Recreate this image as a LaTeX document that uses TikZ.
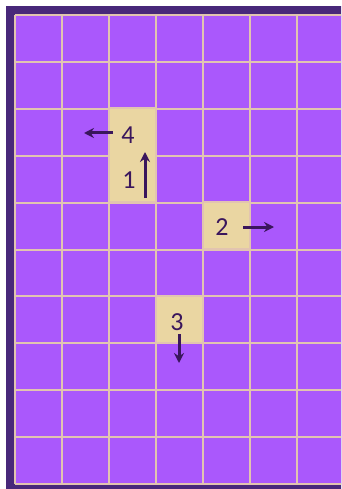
\documentclass[tikz,border=0pt]{standalone}
\usepackage{fontspec}
\setmainfont{Carlito}
\usetikzlibrary{arrows.meta}
\definecolor{cellpurple}{RGB}{170,88,252}
\definecolor{gridbeige}{RGB}{226,196,176}
\definecolor{hicell}{RGB}{234,214,162}
\definecolor{borderdark}{RGB}{72,40,122}
\definecolor{inkdark}{RGB}{58,22,92}
\tikzset{
  hibox/.style={fill=hicell,draw=gridbeige,line width=2pt,minimum width=47pt,minimum height=47pt,inner sep=0pt},
  digit/.style={text=inkdark,font=\fontsize{26}{26}\selectfont,inner sep=0pt},
  movearrow/.style={draw=inkdark,line width=3pt,-{Stealth[length=10pt,width=10pt]}}
}
\begin{document}
\begin{tikzpicture}[x=1pt,y=-1pt]
\useasboundingbox (0,0) rectangle (341,489);
\begin{scope}
\clip (0,0) rectangle (341,489);
\fill[white] (0,0) rectangle (341,489);
\fill[borderdark] (6,6) rectangle (360,500);
\fill[cellpurple] (15,15) rectangle (360,484);
\foreach \i in {0,...,7} {
  \draw[gridbeige,line width=2pt] ({15+47*\i},15) -- ({15+47*\i},484);
}
\foreach \j in {0,...,10} {
  \draw[gridbeige,line width=2pt] (15,{15+46.9*\j}) -- (360,{15+46.9*\j});
}
\end{scope}
% highlighted cells
\node[hibox,minimum height=93.8pt] (c41) at (132.5,155.2) {};
\node[hibox] (c2) at (226.5,225.5) {};
\node[hibox] (c3) at (179.5,319.3) {};
% digits
\node[digit] (d4) at (128,135) {4};
\node[digit] (d1) at (129,180) {1};
\node[digit] (d2) at (222,227) {2};
\node[digit] (d3) at (177,322) {3};
% arrow endpoints
\coordinate (a4s) at (113,133);
\coordinate (a4e) at (84,133);
\coordinate (a1s) at (145,198);
\coordinate (a1e) at (145,152);
\coordinate (a2s) at (243,227);
\coordinate (a2e) at (274,227);
\coordinate (a3s) at (179,334);
\coordinate (a3e) at (179,363);
\draw[movearrow] (a4s) -- (a4e);
\draw[movearrow] (a1s) -- (a1e);
\draw[movearrow] (a2s) -- (a2e);
\draw[movearrow] (a3s) -- (a3e);
\end{tikzpicture}
\end{document}
